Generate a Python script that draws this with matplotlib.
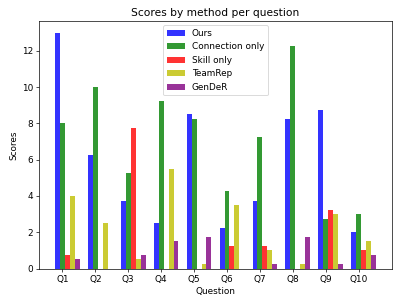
import matplotlib
matplotlib.use("Agg")
import matplotlib.pyplot as plt
import numpy as np

questions = ["Q1", "Q2", "Q3", "Q4", "Q5", "Q6", "Q7", "Q8", "Q9", "Q10"]
ours = [13.0, 6.25, 3.75, 2.5, 8.5, 2.25, 3.75, 8.25, 8.75, 2.0]
connection_only = [8.0, 10.0, 5.25, 9.25, 8.25, 4.25, 7.25, 12.25, 2.75, 3.0]
skill_only = [0.75, 0.0, 7.75, 0.0, 0.0, 1.25, 1.25, 0.0, 3.25, 1.0]
teamrep = [4.0, 2.5, 0.5, 5.5, 0.25, 3.5, 1.0, 0.25, 3.0, 1.5]
gender = [0.5, 0.0, 0.75, 1.5, 1.75, 0.0, 0.25, 1.75, 0.25, 0.75]

series = [
    ("Ours", ours, "blue"),
    ("Connection only", connection_only, "green"),
    ("Skill only", skill_only, "red"),
    ("TeamRep", teamrep, "y"),
    ("GenDeR", gender, "purple"),
]

plt.rcParams["font.size"] = 10.3

dpi = 62.2
fig, ax = plt.subplots(figsize=(398 / dpi, 299 / dpi), dpi=dpi)

x = np.arange(len(questions))
width = 0.15
for i, (name, vals, color) in enumerate(series):
    ax.bar(x + (i - 1) * width, vals, width, color=color, alpha=0.8, label=name)

ax.set_title("Scores by method per question")
ax.set_xlabel("Question")
ax.set_ylabel("Scores")
ax.set_xticks(x)
ax.set_xticklabels(questions)
ax.legend(loc="upper center")

fig.subplots_adjust(left=39 / 398, right=392 / 398, top=1 - 21 / 299, bottom=1 - 268.5 / 299)
plt.savefig("out.png", dpi=dpi)
